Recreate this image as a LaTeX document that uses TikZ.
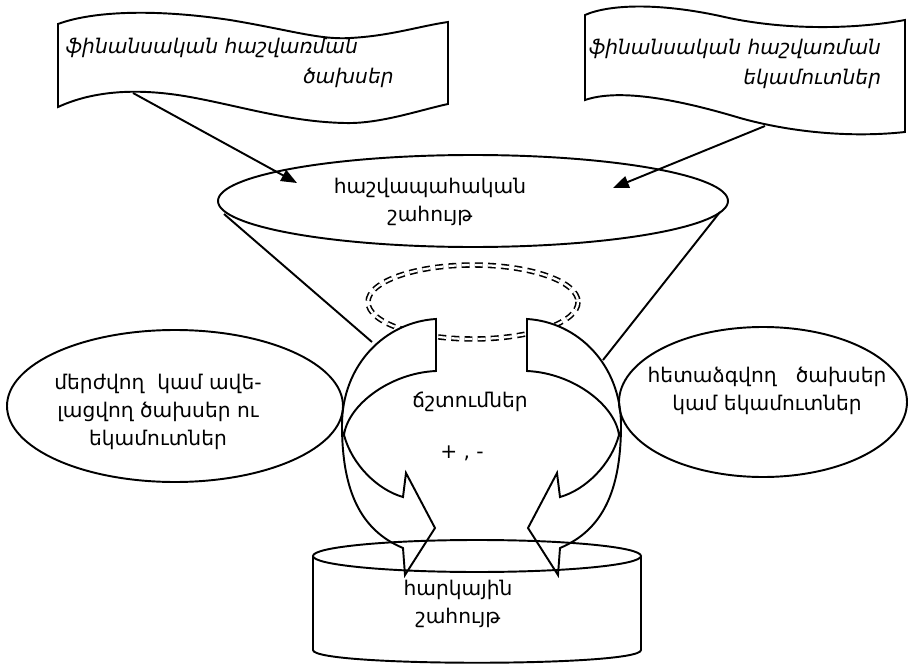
\documentclass[tikz,border=0pt]{standalone}
\usepackage{fontspec}
\setmainfont{DejaVu Sans}
\usetikzlibrary{arrows.meta,shapes.geometric}

\begin{document}
\begin{tikzpicture}[x=0.02cm,y=-0.02cm,line width=1.1pt,
    every node/.style={inner sep=0pt,align=center,font=\fontsize{11.5}{16}\selectfont},
    oval/.style={draw,ellipse,inner sep=0pt},
    tape/.style={draw,fill=white},
    turn/.style={draw,fill=white,line join=miter},
    link/.style={-{Triangle[length=9pt,width=7pt]}},
    ring/.style={double,double distance=1.3pt,line width=0.9pt,dash pattern=on 4.5pt off 3pt}]
\useasboundingbox (0,0) rectangle (914,666);

% banners
\draw[tape] (58,24) .. controls (90,12) and (150,8) .. (230,20) .. controls (290,30) and (320,40) .. (350,38)
    .. controls (390,36) and (420,26) .. (448,22) -- (448,104)
    .. controls (420,110) and (380,124) .. (345,123) .. controls (290,122) and (240,106) .. (190,97)
    .. controls (140,88) and (95,90) .. (58,107) -- cycle;
\draw[tape] (585,15) .. controls (610,4) and (660,3) .. (720,16) .. controls (780,30) and (850,30) .. (905,20)
    -- (905,132) .. controls (850,138) and (790,132) .. (740,118) .. controls (680,100) and (620,88) .. (585,100) -- cycle;
\node[font=\fontsize{11.5}{17}\selectfont\itshape,align=left,anchor=west] (fin_exp) at (65,63) {ֆինանսական հաշվառման\\\hspace*{135pt}ծախսեր};
\node[font=\fontsize{11.5}{17}\selectfont\itshape,align=right,anchor=east] (fin_inc) at (882,64) {ֆինանսական հաշվառման\\եկամուտներ};

% accounting profit
\node[oval,minimum width=510*0.02cm,minimum height=92*0.02cm] (acc) at (473,201) {};
\node (acc_txt) at (430,202) {հաշվապահական\\շահույթ};
\coordinate (exp_out) at (133,93);
\coordinate (exp_in) at (297,183);
\coordinate (inc_out) at (765,126);
\coordinate (inc_in) at (613,188);
\draw[link] (exp_out) -- (exp_in);
\draw[link] (inc_out) -- (inc_in);

% funnel
\coordinate (fun_l) at (224,214);
\coordinate (fun_lb) at (372,342);
\coordinate (fun_r) at (720,212);
\coordinate (fun_rb) at (603,360);
\draw (fun_l) -- (fun_lb);
\draw (fun_r) -- (fun_rb);
\draw[ring] (473,302) ellipse [x radius=105, y radius=37];

% adjustments
\foreach \s/\o in {1/0,-1/963}
  \draw[turn,shift={(\o,0)},xscale=\s] (436,319) -- (436,371)
      .. controls (390,373) and (348,405) .. (344,435) .. controls (352,465) and (378,490) .. (403,497)
      -- (406,473) -- (435,528) -- (405,575) -- (403,548)
      .. controls (360,530) and (342,490) .. (342,425) .. controls (342,365) and (385,322) .. (436,319) -- cycle;
\node (adj) at (470,402) {ճշտումներ};
\node (sign) at (462,453) {+ , -};

\node[oval,minimum width=336*0.02cm,minimum height=152*0.02cm] (rej) at (175,406) {};
\node (rej_txt) at (158,412) {մերժվող \ կամ ավե-\\լացվող ծախսեր ու\\եկամուտներ};
\node[oval,minimum width=288*0.02cm,minimum height=150*0.02cm] (def) at (763,402) {};
\node (def_txt) at (767,391) {հետաձգվող \ \ ծախսեր\\կամ եկամուտներ};

% taxable profit
\draw (313,556) -- (313,650) .. controls (313,667) and (641,667) .. (641,650) -- (641,556);
\draw (477,556) ellipse [x radius=164, y radius=16];
\node (tax) at (458,604) {հարկային\\շահույթ};
\end{tikzpicture}
\end{document}
